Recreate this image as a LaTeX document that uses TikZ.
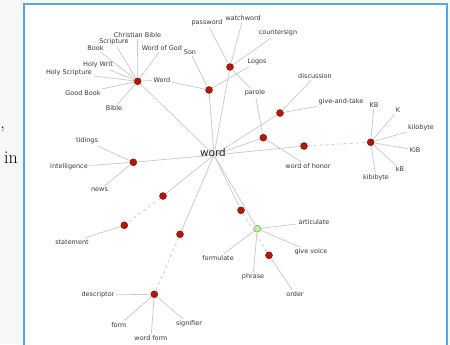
\documentclass[tikz,border=0pt]{standalone}
\usepackage{fontspec}
\newfontfamily\lblfont{DejaVu Sans}

\definecolor{linkgray}{RGB}{200,200,200}
\definecolor{hubred}{RGB}{176,24,10}
\definecolor{hubredline}{RGB}{118,14,6}
\definecolor{hubgreen}{RGB}{186,240,162}
\definecolor{hubgreenline}{RGB}{104,150,92}
\definecolor{frameblue}{RGB}{82,168,230}
\definecolor{lbltext}{RGB}{55,55,55}
\definecolor{pagegray}{RGB}{247,247,247}

\tikzset{
  hub/.style={circle, fill=hubred, draw=hubredline, line width=0.4bp, inner sep=0pt, minimum size=7bp},
  hubsel/.style={hub, fill=hubgreen, draw=hubgreenline},
  lbl/.style={font=\lblfont\fontsize{6.5}{7}\selectfont, text=lbltext, inner sep=1.5bp},
  link/.style={draw=linkgray, line width=0.7bp},
  dashlink/.style={link, dash pattern=on 3bp off 3bp},
}

\begin{document}
\begin{tikzpicture}[x=1bp, y=-1bp]
\useasboundingbox (0,0) rectangle (450,344);
% page behind the frame
\fill[pagegray] (0,0) rectangle (450,344);
\node[anchor=base east, font=\fontsize{18}{20}\selectfont, inner sep=0pt] (comma) at (5,128) {,};
\node[anchor=base east, font=\fontsize{18}{20}\selectfont, inner sep=0pt] (intext) at (18,163) {in};
\draw[frameblue, line width=1.6bp, fill=white] (24,350) -- (24,4) -- (447,4) -- (447,350);

\coordinate (wordc) at (214,155);

% meaning nodes
\node[hub] (biblehub) at (137.7,81.3) {};
\node[hub] (logoshub) at (209,90) {};
\node[hub] (passhub) at (230,67) {};
\node[hub] (honorhub) at (263.3,137.7) {};
\node[hub] (dischub) at (280,113) {};
\node[hub] (bytehub) at (304,146) {};
\node[hub] (kbhub) at (370.7,142.3) {};
\node[hub] (tidhub) at (133.3,162.3) {};
\node[hub] (stathubA) at (163,196) {};
\node[hub] (stathubB) at (124.3,225.3) {};
\node[hub] (deschubA) at (180,234.3) {};
\node[hub] (deschubB) at (154.3,294.3) {};
\node[hub] (orderhubA) at (241,210.3) {};
\node[hub] (orderhubB) at (269,255.3) {};
\node[hubsel] (speakhub) at (257.3,228.7) {};

% synonyms
\node[lbl] (christianbible) at (137.5,35) {Christian Bible};
\node[lbl] (scripture) at (114,42) {Scripture};
\node[lbl] (book) at (95.5,48) {Book};
\node[lbl] (wordofgod) at (162,48) {Word of God};
\node[lbl] (holywrit) at (98,65) {Holy Writ};
\node[lbl] (holyscripture) at (69,73) {Holy Scripture};
\node[lbl] (goodbook) at (83,93) {Good Book};
\node[lbl] (bible) at (114,108) {Bible};
\node[lbl] (wordcap) at (162,80) {Word};
\node[lbl] (son) at (190,52) {Son};
\node[lbl] (logos) at (257,62) {Logos};
\node[lbl] (password) at (207,23) {password};
\node[lbl] (watchword) at (243,18) {watchword};
\node[lbl] (countersign) at (278,33) {countersign};
\node[lbl] (parole) at (255,93) {parole};
\node[lbl] (discussion) at (315,76) {discussion};
\node[lbl] (giveandtake) at (341,102) {give-and-take};
\node[lbl] (wordofhonor) at (308,166) {word of honor};
\node[lbl] (kbupper) at (374,105) {KB};
\node[lbl] (kay) at (398,110) {K};
\node[lbl] (kilobyte) at (421,128) {kilobyte};
\node[lbl] (kib) at (415,150) {KiB};
\node[lbl] (kblower) at (400,169) {kB};
\node[lbl] (kibibyte) at (376,178) {kibibyte};
\node[lbl] (tidings) at (87,141) {tidings};
\node[lbl] (intelligence) at (69,167) {intelligence};
\node[lbl] (news) at (99.5,190) {news};
\node[lbl] (statement) at (72,242) {statement};
\node[lbl] (descriptor) at (98,295) {descriptor};
\node[lbl] (form) at (119,325) {form};
\node[lbl] (wordform) at (151,338) {word form};
\node[lbl] (signifier) at (189,324) {signifier};
\node[lbl] (articulate) at (314,222) {articulate};
\node[lbl] (givevoice) at (311,252) {give voice};
\node[lbl] (phrase) at (253,277) {phrase};
\node[lbl] (formulate) at (218,258) {formulate};
\node[lbl] (order) at (295,294) {order};

% from the centre word
\draw[link] (wordc) -- (biblehub);
\draw[link] (wordc) -- (logoshub);
\draw[link] (wordc) -- (passhub);
\draw[link] (wordc) -- (honorhub);
\draw[link] (wordc) -- (dischub);
\draw[link] (wordc) -- (bytehub);
\draw[link] (wordc) -- (tidhub);
\draw[link] (wordc) -- (stathubA);
\draw[link] (wordc) -- (deschubA);
\draw[link] (wordc) -- (orderhubA);
\draw[link] (wordc) -- (speakhub);

% dashed steps
\draw[dashlink] (bytehub) -- (kbhub);
\draw[dashlink] (stathubA) -- (stathubB);
\draw[dashlink] (deschubA) -- (deschubB);
\draw[dashlink] (orderhubA) -- (orderhubB);

% Bible
\draw[link] (biblehub) -- (christianbible);
\draw[link] (biblehub) -- (scripture);
\draw[link] (biblehub) -- (book);
\draw[link] (biblehub) -- (wordofgod);
\draw[link] (biblehub) -- (holywrit);
\draw[link] (biblehub) -- (holyscripture);
\draw[link] (biblehub) -- (goodbook);
\draw[link] (biblehub) -- (bible);
\draw[link] (biblehub) -- (wordcap);

% Logos
\draw[link] (logoshub) -- (wordcap);
\draw[link] (logoshub) -- (son);
\draw[link] (logoshub) -- (logos);

% password
\draw[link] (passhub) -- (password);
\draw[link] (passhub) -- (watchword);
\draw[link] (passhub) -- (countersign);
\draw[link] (passhub) -- (parole);

\draw[link] (honorhub) -- (parole);
\draw[link] (honorhub) -- (wordofhonor);

\draw[link] (dischub) -- (discussion);
\draw[link] (dischub) -- (giveandtake);

% kilobyte
\draw[link] (kbhub) -- (kbupper);
\draw[link] (kbhub) -- (kay);
\draw[link] (kbhub) -- (kilobyte);
\draw[link] (kbhub) -- (kib);
\draw[link] (kbhub) -- (kblower);
\draw[link] (kbhub) -- (kibibyte);

\draw[link] (tidhub) -- (tidings);
\draw[link] (tidhub) -- (intelligence);
\draw[link] (tidhub) -- (news);

\draw[link] (stathubB) -- (statement);

\draw[link] (deschubB) -- (descriptor);
\draw[link] (deschubB) -- (form);
\draw[link] (deschubB) -- (wordform);
\draw[link] (deschubB) -- (signifier);

\draw[link] (speakhub) -- (articulate);
\draw[link] (speakhub) -- (givevoice);
\draw[link] (speakhub) -- (phrase);
\draw[link] (speakhub) -- (formulate);

\draw[link] (orderhubB) -- (order);

\node[anchor=base, font=\lblfont\fontsize{10.5}{12}\selectfont, text=black!85, inner sep=0pt] (word) at (213,156) {word};
\end{tikzpicture}
\end{document}
